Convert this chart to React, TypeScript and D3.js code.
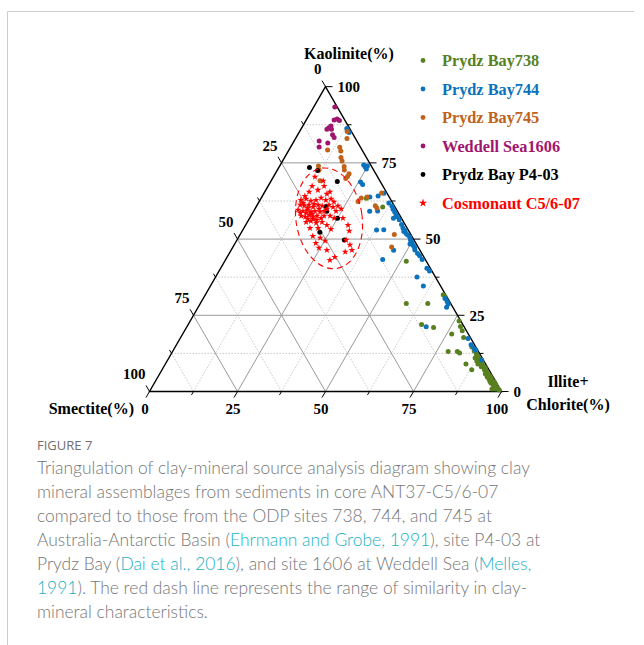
import React from "react";
import * as d3 from "d3";

// Each sample is [illite+chlorite %, kaolinite %]; smectite is the remainder to 100 %.
const prydzBay738: [number, number][] = [
  [29.9, 63.4], [36.0, 60.5], [51.6, 42.7], [58.5, 28.9], [64.6, 28.9], [67.6, 31.7], [68.5, 31.0],
  [66.3, 22.0], [70.2, 21.0], [76.4, 23.1], [77.7, 21.3], [78.9, 19.9], [76.4, 18.9], [80.4, 17.7],
  [78.3, 13.1], [80.9, 13.1], [81.8, 12.6], [85.4, 9.0], [88.0, 7.1],
  [84.3, 14.6], [85.6, 13.3], [86.7, 12.3], [87.5, 11.6], [87.0, 11.0], [88.3, 10.7], [88.0, 10.0],
  [89.1, 9.7], [89.8, 9.4], [88.8, 9.0], [90.6, 8.4], [90.2, 8.1], [91.5, 7.8], [91.6, 7.1],
  [92.2, 6.8], [92.9, 6.1], [92.5, 5.8], [93.5, 5.5], [94.2, 5.1], [93.5, 4.8], [94.8, 4.5],
  [94.3, 4.2], [95.4, 3.8], [95.0, 3.4], [96.4, 3.1], [95.6, 2.8], [97.0, 2.5], [96.6, 2.1],
  [97.5, 1.8], [97.2, 1.5], [98.1, 1.2], [97.8, 0.8], [98.6, 0.8], [99.1, 0.5], [96.9, 0.8],
];

const prydzBay744: [number, number][] = [
  [12.9, 86.3], [13.5, 85.6], [14.2, 85.0],
  [23.7, 74.3], [24.4, 73.7], [24.9, 74.0], [25.1, 73.0], [25.6, 68.7], [26.6, 67.9],
  [30.7, 63.8], [32.9, 64.1], [34.1, 65.0],
  [37.1, 61.8], [38.5, 60.8], [39.3, 59.8], [40.2, 58.9], [41.1, 57.9], [41.8, 57.3], [40.9, 56.8],
  [42.8, 56.3], [44.2, 54.8], [45.2, 53.6], [46.0, 52.5], [46.2, 52.8], [47.0, 51.8], [47.7, 51.3],
  [48.6, 50.7], [49.3, 49.7], [50.1, 49.0], [49.8, 48.4], [51.0, 47.9], [51.7, 47.2], [52.2, 46.4],
  [53.5, 45.3], [54.5, 44.5], [55.8, 43.3], [58.6, 40.4], [59.8, 39.5],
  [33.0, 59.1], [35.2, 59.2], [38.0, 53.0], [40.0, 53.1], [46.2, 46.3], [44.6, 43.3],
  [57.2, 37.6], [60.5, 34.6], [68.7, 30.5], [69.8, 29.5], [70.5, 28.7], [70.6, 27.6], [68.0, 21.2],
  [81.8, 17.4], [83.7, 15.3], [85.2, 14.1], [86.0, 13.5], [89.2, 10.3],
];

const prydzBay745: [number, number][] = [
  [13.5, 85.3], [14.6, 83.0], [11.0, 79.2], [14.0, 80.1], [14.9, 78.9], [16.0, 76.8], [16.9, 75.6],
  [18.4, 73.8], [19.0, 72.7], [21.0, 71.4], [21.0, 70.5], [20.8, 69.9], [11.0, 74.0], [11.8, 72.7],
  [13.9, 69.1], [28.1, 62.3], [28.4, 63.5], [33.7, 60.9], [34.5, 60.2], [33.4, 65.1], [43.8, 51.5],
  [45.1, 47.4], [29.9, 63.8],
];

const weddellSea1606: [number, number][] = [
  [6.0, 93.3], [7.9, 89.1], [8.6, 89.4], [9.5, 88.9], [8.0, 87.1], [7.7, 86.5], [7.4, 86.0],
  [8.7, 86.0], [9.9, 84.2], [10.8, 83.3], [7.1, 82.2], [8.1, 80.2], [9.9, 81.5],
];

const prydzBayP403: [number, number][] = [
  [8.7, 73.5], [11.5, 72.5], [18.9, 68.9], [19.8, 60.7], [20.8, 59.1], [25.0, 56.8], [22.3, 52.2],
  [30.5, 49.7],
];

const cosmonautC5607: [number, number][] = [
  [11.8, 70.4], [14.8, 69.1], [12.5, 67.4], [15.9, 67.4], [12.6, 65.5], [14.8, 66.1], [18.0, 64.8],
  [18.5, 65.5], [12.1, 64.1],
  [11.6, 62.8], [12.9, 63.2], [14.6, 62.5], [15.9, 62.8], [17.0, 63.5], [18.7, 62.8], [20.0, 63.2],
  [21.3, 62.2],
  [12.2, 61.2], [13.5, 60.9], [14.7, 61.2], [16.2, 60.5], [17.3, 61.2], [18.6, 60.9], [20.4, 61.2],
  [21.9, 60.5], [23.1, 60.9],
  [12.4, 59.6], [14.0, 59.2], [15.0, 59.6], [16.4, 58.9], [17.4, 59.2], [19.0, 58.9], [20.0, 59.2],
  [23.4, 59.2], [24.5, 59.9],
  [14.3, 57.6], [15.6, 57.3], [16.4, 57.9], [17.8, 57.3], [18.8, 57.6], [20.3, 56.9], [22.5, 57.6],
  [24.0, 56.9],
  [16.7, 55.6], [17.9, 55.9], [19.7, 55.3], [21.2, 55.6], [23.1, 54.6], [26.5, 56.9], [29.1, 54.6],
  [18.8, 53.6], [21.1, 53.6], [24.9, 53.3],
  [20.9, 51.0], [23.3, 50.4], [22.9, 48.7], [25.2, 49.4], [30.4, 52.7], [31.0, 49.7], [24.6, 47.1],
  [27.2, 46.4], [32.9, 48.1], [34.3, 46.4], [32.7, 45.8], [29.7, 43.1], [30.6, 44.1],
  [12.7, 61.8], [14.9, 60.2], [16.0, 61.5], [18.2, 59.9], [17.1, 58.2], [15.2, 58.6], [19.4, 56.3],
  [13.5, 58.6], [20.8, 57.6], [20.5, 59.9], [18.2, 56.6], [16.7, 56.6],
];

// Similarity range: ellipse centre [illite+chlorite %, kaolinite %], semi-axes in % of side, tilt in degrees
const similarityCentre: [number, number] = [22.6, 56.8];
const similarityRadii: [number, number] = [9.4, 14.4];
const similarityTilt = -8.5;

const majorTicks = [0, 25, 50, 75, 100];
const minorTicks = [12.5, 37.5, 62.5, 87.5];
const gridMajor = [25, 50, 75];

const seriesNames = [
  "Prydz Bay738",
  "Prydz Bay744",
  "Prydz Bay745",
  "Weddell Sea1606",
  "Prydz Bay P4-03",
  "Cosmonaut C5/6-07",
];
const seriesColors = ["#58801f", "#0b72bd", "#c0621a", "#a0166f", "#000000", "#ff0000"];
const seriesData = [prydzBay738, prydzBay744, prydzBay745, weddellSea1606, prydzBayP403, cosmonautC5607];

const captionTitle = "FIGURE 7";
// Each caption line is a list of [text, isReference]
const captionLines: [string, boolean][][] = [
  [["Triangulation of clay-mineral source analysis diagram showing clay", false]],
  [["mineral assemblages from sediments in core ANT37-C5/6-07", false]],
  [["compared to those from the ODP sites 738, 744, and 745 at", false]],
  [["Australia-Antarctic Basin (", false], ["Ehrmann and Grobe, 1991", true], ["), site P4-03 at", false]],
  [["Prydz Bay (", false], ["Dai et al., 2016", true], ["), and site 1606 at Weddell Sea (", false], ["Melles,", true]],
  [["1991", true], ["). The red dash line represents the range of similarity in clay-", false]],
  [["mineral characteristics.", false]],
];

const WIDTH = 644;
const HEIGHT = 645;
const LEFT = 149.5;
const RIGHT = 501.5;
const BASE = 391.5;
const SIDE = RIGHT - LEFT;
const TRI_H = (SIDE * Math.sqrt(3)) / 2;

const xScale = d3.scaleLinear().domain([0, 100]).range([LEFT, RIGHT]);
const kScale = d3.scaleLinear().domain([0, 100]).range([BASE, BASE - TRI_H]);

// Position of a composition given illite+chlorite and kaolinite (smectite implied)
const project = (illite: number, kaolinite: number): [number, number] => [
  xScale(illite + kaolinite / 2),
  kScale(kaolinite),
];

const serif = "'Times New Roman', 'Liberation Serif', serif";
const SIN60 = Math.sqrt(3) / 2;

export default function App() {
  const top = project(0, 100);
  const bl = project(0, 0);
  const br = project(100, 0);

  const starPath = d3.symbol(d3.symbolStar, 15)() as string;
  const legendStar = d3.symbol(d3.symbolStar, 22)() as string;

  const gridLine = (v: number, kind: "k" | "i" | "s") => {
    if (kind === "k") return [project(0, v), project(100 - v, v)];
    if (kind === "i") return [project(v, 0), project(v, 100 - v)];
    return [project(100 - v, 0), project(0, 100 - v)];
  };

  const lines: React.ReactNode[] = [];
  (["k", "i", "s"] as const).forEach((kind) => {
    minorTicks.forEach((v) => {
      const [a, b] = gridLine(v, kind);
      lines.push(
        <line key={`m${kind}${v}`} x1={a[0]} y1={a[1]} x2={b[0]} y2={b[1]}
          stroke="#c4c4c4" strokeWidth={0.9} strokeDasharray="1.5,1.5" />
      );
    });
  });
  (["k", "i", "s"] as const).forEach((kind) => {
    gridMajor.forEach((v) => {
      const [a, b] = gridLine(v, kind);
      lines.push(
        <line key={`g${kind}${v}`} x1={a[0]} y1={a[1]} x2={b[0]} y2={b[1]}
          stroke="#9a9a9a" strokeWidth={1} />
      );
    });
  });

  const ticks: React.ReactNode[] = [];
  const allTicks = [...majorTicks.map((v) => [v, 1]), ...minorTicks.map((v) => [v, 0])];
  allTicks.forEach(([v, major]) => {
    const len = major ? 7 : 4;
    // kaolinite on right edge, pointing right
    const pk = project(100 - v, v);
    ticks.push(<line key={`tk${v}`} x1={pk[0]} y1={pk[1]} x2={pk[0] + len} y2={pk[1]} stroke="#000" strokeWidth={1} />);
    // smectite on left edge, pointing up-left
    const ps = project(0, 100 - v);
    ticks.push(<line key={`ts${v}`} x1={ps[0]} y1={ps[1]} x2={ps[0] - len * 0.5} y2={ps[1] - len * SIN60} stroke="#000" strokeWidth={1} />);
    // illite on bottom edge, pointing down-left
    const pi = project(v, 0);
    ticks.push(<line key={`ti${v}`} x1={pi[0]} y1={pi[1]} x2={pi[0] - len * 0.5} y2={pi[1] + len * SIN60} stroke="#000" strokeWidth={1} />);
  });

  const labelStyle = { fontFamily: serif, fontWeight: 700, fontSize: 15 } as const;
  const labels: React.ReactNode[] = [];
  majorTicks.forEach((v) => {
    const pk = project(100 - v, v);
    labels.push(<text key={`lk${v}`} x={pk[0] + 12} y={pk[1]} dy="0.35em" textAnchor="start" {...labelStyle}>{v}</text>);
    const ps = project(0, 100 - v);
    labels.push(<text key={`ls${v}`} x={ps[0] - 4} y={ps[1] - 17.5} dy="0.35em" textAnchor="end" {...labelStyle}>{v}</text>);
    const pi = project(v, 0);
    labels.push(<text key={`li${v}`} x={pi[0] - 4.5} y={pi[1] + 17} dy="0.35em" textAnchor="middle" {...labelStyle}>{v}</text>);
  });

  const [ecx, ecy] = project(similarityCentre[0], similarityCentre[1]);
  const erx = (similarityRadii[0] / 100) * SIDE;
  const ery = (similarityRadii[1] / 100) * SIDE;

  const markers: React.ReactNode[] = [];
  seriesData.forEach((data, si) => {
    data.forEach(([i, k], j) => {
      const [x, y] = project(i, k);
      if (si === 5) {
        markers.push(<path key={`p${si}-${j}`} d={starPath} transform={`translate(${x},${y})`} fill={seriesColors[si]} />);
      } else {
        markers.push(<circle key={`p${si}-${j}`} cx={x} cy={y} r={2.5} fill={seriesColors[si]} />);
      }
    });
  });

  const legendY = d3.scaleLinear().domain([0, 5]).range([60.5, 203]);

  return (
    <div style={{ position: "absolute", left: 0, top: 0 }}>
      <svg width={WIDTH} height={HEIGHT} viewBox={`0 0 ${WIDTH} ${HEIGHT}`} style={{ display: "block", background: "#fff" }}>
        <line x1={7.5} y1={11.5} x2={634} y2={11.5} stroke="#cccccc" strokeWidth={1} />
        <line x1={7.5} y1={11.5} x2={7.5} y2={HEIGHT} stroke="#cccccc" strokeWidth={1} />

        {lines}
        <path d={`M${top[0]},${top[1]}L${bl[0]},${bl[1]}L${br[0]},${br[1]}Z`} fill="none" stroke="#000" strokeWidth={1.4} strokeLinejoin="miter" />
        {ticks}
        {labels}

        <text x={349} y={53} dy="0.35em" textAnchor="middle" fontFamily={serif} fontWeight={700} fontSize={16}>Kaolinite(%)</text>
        <text x={134} y={408.5} dy="0.35em" textAnchor="end" fontFamily={serif} fontWeight={700} fontSize={16}>Smectite(%)</text>
        <text x={568} y={381} dy="0.35em" textAnchor="middle" fontFamily={serif} fontWeight={700} fontSize={16}>Illite+</text>
        <text x={568} y={404} dy="0.35em" textAnchor="middle" fontFamily={serif} fontWeight={700} fontSize={16}>Chlorite(%)</text>

        {markers}

        <ellipse cx={0} cy={0} rx={erx} ry={ery} transform={`translate(${ecx},${ecy}) rotate(${similarityTilt})`}
          fill="none" stroke="#ff0000" strokeWidth={1.1} strokeDasharray="6,4" />

        {seriesNames.map((name, si) => {
          const y = legendY(si);
          return (
            <g key={name}>
              {si === 5 ? (
                <path d={legendStar} transform={`translate(423,${y})`} fill={seriesColors[si]} />
              ) : (
                <circle cx={423} cy={y} r={2.4} fill={seriesColors[si]} />
              )}
              <text x={442} y={y} dy="0.35em" fontFamily={serif} fontWeight={700} fontSize={16.3} fill={seriesColors[si]}>{name}</text>
            </g>
          );
        })}

        <text x={37} y={449.5} fontFamily="'Open Sans', sans-serif" fontSize={13} fill="#6f6f6f">{captionTitle}</text>
        {captionLines.map((segs, li) => (
          <text key={li} x={37} y={474 + li * 24} fontFamily="Lato, 'Open Sans', sans-serif" fontWeight={300} fontSize={17.45} fill="#767676">
            {segs.map(([t, ref], k) => (
              <tspan key={k} fill={ref ? "#1ab0c6" : "#767676"}>{t}</tspan>
            ))}
          </text>
        ))}
      </svg>
    </div>
  );
}
